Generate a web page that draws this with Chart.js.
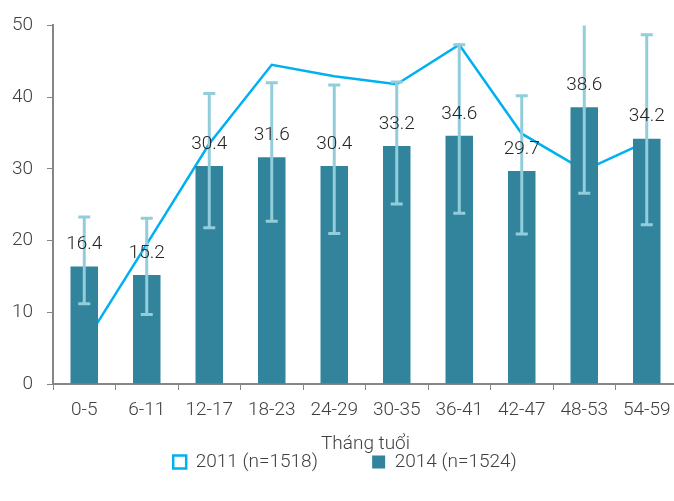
<!DOCTYPE html>
<html>
<head>
<meta charset="utf-8">
<script src="https://cdn.jsdelivr.net/npm/chart.js@4"></script>
<style>
html,body{margin:0;padding:0;background:#fff;overflow:hidden;}
#wrap{width:690px;height:501px;position:relative;}
</style>
</head>
<body>
<div id="wrap"><canvas id="c"></canvas></div>
<script>
const categories = ['0-5','6-11','12-17','18-23','24-29','30-35','36-41','42-47','48-53','54-59'];
const values2011 = [5.6, 19.5, 33.5, 44.5, 42.9, 41.8, 47.3, 34.9, 29.8, 33.8];
const values2014 = [16.4, 15.2, 30.4, 31.6, 30.4, 33.2, 34.6, 29.7, 38.6, 34.2];
const err2014Low = [11.2, 9.7, 21.8, 22.7, 21.0, 25.1, 23.8, 20.9, 26.6, 22.2];
const err2014High = [23.3, 23.1, 40.5, 42.0, 41.7, 42.1, 47.3, 40.2, 52.0, 48.7];
const yTicks = [0, 10, 20, 30, 40, 50];
const label2011 = '2011 (n=1518)';
const label2014 = '2014 (n=1524)';
const xTitle = 'Tháng tuổi';

const FONT = 'Roboto, "Noto Sans", sans-serif';
const FS = 19;
const BAR = '#31849b';
const ERR = '#92cddc';
const LINE = '#00b0f0';
const TXT = '#404040';

const errorBars = {
  id: 'errorBars',
  afterDatasetsDraw(chart) {
    const meta = chart.getDatasetMeta(1);
    const y = chart.scales.y;
    const ctx = chart.ctx;
    ctx.save();
    ctx.beginPath();
    ctx.rect(chart.chartArea.left, chart.chartArea.top, chart.chartArea.right - chart.chartArea.left, chart.chartArea.bottom - chart.chartArea.top);
    ctx.clip();
    ctx.strokeStyle = ERR;
    ctx.lineWidth = 3;
    meta.data.forEach((bar, i) => {
      const x = bar.x;
      const yl = y.getPixelForValue(err2014Low[i]);
      const yh = y.getPixelForValue(err2014High[i]);
      ctx.beginPath();
      ctx.moveTo(x, yl); ctx.lineTo(x, yh);
      ctx.moveTo(x - 6, yl); ctx.lineTo(x + 6, yl);
      ctx.moveTo(x - 6, yh); ctx.lineTo(x + 6, yh);
      ctx.stroke();
    });
    ctx.restore();
    ctx.save();
    ctx.fillStyle = '#262626';
    ctx.font = '300 ' + FS + 'px ' + FONT;
    ctx.textAlign = 'center';
    ctx.textBaseline = 'middle';
    meta.data.forEach((bar, i) => {
      ctx.fillText(values2014[i].toFixed(1), bar.x, y.getPixelForValue(values2014[i]) - 22);
    });
    ctx.restore();
  }
};

new Chart(document.getElementById('c'), {
  data: {
    labels: categories,
    datasets: [
      {
        type: 'line',
        label: label2011,
        data: values2011,
        borderColor: LINE,
        backgroundColor: '#ffffff',
        borderWidth: 2.5,
        pointRadius: 0,
        tension: 0,
        order: 2
      },
      {
        type: 'bar',
        label: label2014,
        data: values2014,
        backgroundColor: BAR,
        borderColor: BAR,
        barPercentage: 0.44,
        categoryPercentage: 1.0,
        order: 1
      }
    ]
  },
  options: {
    responsive: true,
    maintainAspectRatio: false,
    animation: false,
    layout: { padding: { top: 20, bottom: 19.5, left: 12, right: 12 } },
    plugins: {
      tooltip: { enabled: false },
      legend: {
        position: 'bottom',
        labels: {
          color: TXT,
          font: { family: FONT, size: FS, weight: 300 },
          boxWidth: 13,
          boxHeight: 13,
          padding: 8,
          generateLabels() {
            return [
              { text: label2011 + '          ', fillStyle: '#ffffff', strokeStyle: LINE, lineWidth: 2.5, datasetIndex: 0, fontColor: TXT },
              { text: label2014, fillStyle: BAR, strokeStyle: BAR, lineWidth: 0, datasetIndex: 1, fontColor: TXT }
            ];
          }
        }
      }
    },
    scales: {
      x: {
        offset: true,
        afterFit(s) { s.height = 60.5; },
        grid: { display: true, drawOnChartArea: false, drawTicks: true, tickLength: 6, tickColor: '#868686', offset: true },
        border: { color: '#868686', width: 2 },
        ticks: { color: TXT, font: { family: FONT, size: FS, weight: 300 }, padding: 8.6, maxRotation: 0, autoSkip: false },
        title: { display: true, text: xTitle, color: TXT, font: { family: FONT, size: FS, weight: 300 }, padding: { top: 0, bottom: -11 } }
      },
      y: {
        min: 0, max: 50,
        afterFit(s) { s.width = 41; },
        afterBuildTicks(s) { s.ticks = yTicks.map(v => ({ value: v })); },
        grid: { display: true, drawOnChartArea: false, drawTicks: true, tickLength: 6, tickColor: '#868686' },
        border: { color: '#868686', width: 2 },
        ticks: { color: TXT, font: { family: FONT, size: FS, weight: 300 }, padding: 14 }
      }
    }
  },
  plugins: [errorBars]
});
</script>
</body>
</html>
